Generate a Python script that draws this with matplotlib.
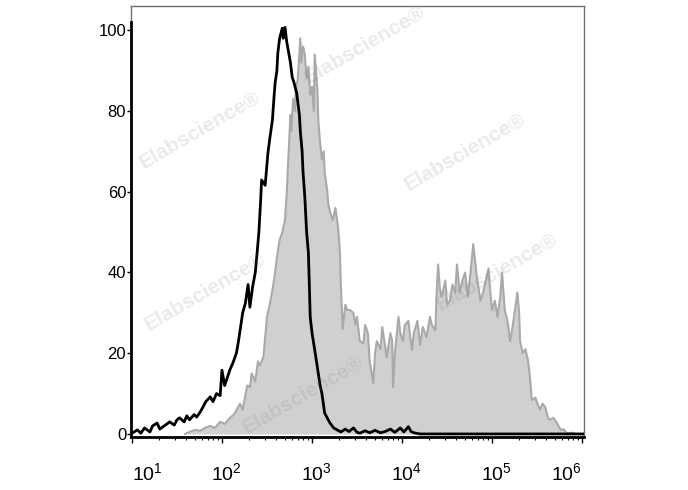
import numpy as np
import matplotlib
matplotlib.use("Agg")
import matplotlib.pyplot as plt
import matplotlib.transforms as mtransforms
from matplotlib.lines import Line2D
from matplotlib.ticker import LogLocator, NullFormatter

plt.rcParams['font.family'] = ['Liberation Sans', 'DejaVu Sans']
plt.rcParams['mathtext.fontset'] = 'custom'
plt.rcParams['mathtext.rm'] = 'Liberation Sans'
plt.rcParams['mathtext.it'] = 'Liberation Sans:italic'

# 对照组（黑线），x 为 log10 荧光强度
ctrl_log = [1.01, 1.06, 1.10, 1.14, 1.20, 1.23, 1.28, 1.31, 1.34, 1.39, 1.42, 1.47, 1.50, 1.53,
            1.58, 1.61, 1.64, 1.69, 1.72, 1.76, 1.79, 1.82, 1.87, 1.90, 1.94, 1.98, 2.00, 2.03,
            2.06, 2.09, 2.12, 2.16, 2.18, 2.21, 2.23, 2.26, 2.29, 2.31, 2.34, 2.37, 2.39, 2.41,
            2.43, 2.44, 2.48, 2.51, 2.53, 2.56, 2.58, 2.59, 2.61, 2.62, 2.64, 2.67, 2.68, 2.70,
            2.72, 2.73, 2.76, 2.78, 2.80, 2.83, 2.86, 2.87, 2.89, 2.90, 2.92, 2.94, 2.96, 2.97,
            2.98, 3.00, 3.03, 3.07, 3.09, 3.11, 3.14, 3.18, 3.20, 3.24, 3.28, 3.32, 3.37, 3.41,
            3.46, 3.50, 3.53, 3.59, 3.64, 3.70, 3.76, 3.81, 3.87, 3.92, 3.98, 4.02, 4.07, 4.10,
            4.13, 4.20, 6.02]
ctrl_cnt = [0.3, 1.0, 0.2, 1.5, 0.5, 2.0, 2.7, 1.2, 1.7, 2.5, 3.0, 2.2, 3.5, 4.0,
            3.0, 4.5, 3.5, 4.8, 4.2, 5.5, 6.7, 8.0, 9.2, 8.0, 10.0, 9.5, 15.8, 12.0,
            14.0, 16.0, 17.5, 20.0, 22.5, 27.0, 30.0, 32.4, 37.0, 31.4, 36.4, 40.0, 44.8, 50.0,
            58.0, 62.9, 61.6, 69.5, 73.0, 77.7, 84.0, 86.9, 90.0, 94.3, 98.0, 100.5, 98.0, 100.7,
            97.0, 95.8, 92.0, 88.4, 87.0, 84.4, 79.0, 75.0, 70.0, 65.0, 58.7, 50.0, 44.8, 37.0,
            29.0, 25.0, 20.8, 15.0, 12.0, 10.0, 5.2, 3.5, 2.7, 1.5, 1.0, 0.5, 1.2, 0.6,
            1.5, 0.4, 0.2, 0.8, 0.3, 0.9, 0.3, 0.6, 1.2, 0.4, 1.5, 0.5, 1.8, 0.6,
            0.3, 0.0, 0.0]

# 染色组（灰色填充）
stain_log = [1.59, 1.64, 1.70, 1.76, 1.81, 1.87, 1.92, 1.98, 2.03, 2.09, 2.14, 2.20, 2.23, 2.28,
             2.31, 2.33, 2.37, 2.40, 2.42, 2.46, 2.48, 2.50, 2.53, 2.56, 2.59, 2.61, 2.64, 2.67,
             2.70, 2.72, 2.73, 2.76, 2.77, 2.79, 2.81, 2.82, 2.84, 2.87, 2.88, 2.90, 2.92, 2.94,
             2.96, 2.98, 3.00, 3.02, 3.03, 3.06, 3.07, 3.09, 3.11, 3.13, 3.14, 3.17, 3.18, 3.20,
             3.23, 3.26, 3.29, 3.31, 3.32, 3.34, 3.37, 3.39, 3.42, 3.46, 3.48, 3.50, 3.53, 3.57,
             3.59, 3.61, 3.62, 3.64, 3.68, 3.70, 3.72, 3.76, 3.78, 3.81, 3.83, 3.87, 3.89, 3.90,
             3.92, 3.96, 3.98, 4.01, 4.03, 4.07, 4.09, 4.11, 4.13, 4.17, 4.20, 4.23, 4.27, 4.31,
             4.33, 4.37, 4.38, 4.40, 4.42, 4.44, 4.48, 4.50, 4.53, 4.56, 4.59, 4.61, 4.64, 4.67,
             4.70, 4.73, 4.76, 4.79, 4.81, 4.83, 4.87, 4.90, 4.92, 4.96, 4.98, 5.00, 5.03, 5.06,
             5.09, 5.11, 5.14, 5.17, 5.20, 5.23, 5.28, 5.30, 5.31, 5.34, 5.37, 5.40, 5.42, 5.44,
             5.48, 5.50, 5.53, 5.56, 5.59, 5.62, 5.64, 5.68, 5.72, 5.76, 5.79, 5.83, 5.89, 5.93,
             6.02]
stain_cnt = [0.0, 0.5, 1.0, 0.8, 1.5, 2.0, 1.5, 3.0, 2.5, 4.0, 5.0, 7.5, 6.0, 12.0,
             11.6, 15.0, 13.0, 18.0, 17.0, 19.0, 24.0, 29.0, 32.0, 35.6, 40.0, 43.8, 48.0, 50.0,
             53.0, 60.0, 65.0, 79.0, 75.0, 83.0, 80.0, 86.0, 87.6, 98.0, 92.0, 96.0, 94.0, 88.0,
             91.0, 84.0, 86.0, 80.0, 94.0, 85.0, 77.7, 72.0, 68.0, 70.0, 65.0, 60.0, 57.0, 55.0,
             53.0, 56.0, 51.0, 45.0, 37.0, 26.0, 32.0, 30.7, 30.7, 30.0, 27.0, 29.0, 23.0, 22.5,
             27.0, 25.7, 25.0, 18.0, 12.6, 20.0, 23.0, 21.0, 26.5, 22.0, 19.0, 25.0, 23.0, 11.6,
             20.0, 29.0, 25.0, 23.0, 27.0, 28.0, 24.0, 20.8, 25.0, 28.0, 22.0, 26.5, 24.0, 29.0,
             27.0, 25.7, 33.0, 42.0, 36.0, 34.0, 38.0, 32.0, 33.0, 37.0, 35.0, 42.0, 35.0, 38.0,
             40.0, 34.0, 40.0, 47.0, 43.0, 39.0, 33.0, 35.0, 37.0, 41.0, 35.0, 30.7, 33.0, 29.0,
             34.0, 40.0, 30.7, 28.0, 23.0, 27.0, 35.0, 30.0, 23.0, 20.0, 21.0, 18.0, 14.0, 8.4,
             9.0, 7.7, 6.0, 7.5, 6.7, 4.0, 3.5, 4.0, 2.7, 1.0, 1.2, 0.2, 0.3, 0.0,
             0.0]

decades = [1, 2, 3, 4, 5, 6]
y_ticks = [0, 20, 40, 60, 80, 100]

# 水印位置（图坐标）
marks = [(0.291, 0.735), (0.531, 0.908), (0.676, 0.690),
         (0.298, 0.404), (0.722, 0.445), (0.440, 0.194)]

fig = plt.figure(figsize=(6.88, 4.90), dpi=100)
ax = fig.add_axes([131 / 688, 53 / 490, 453 / 688, 431 / 490])

xs = 10 ** np.array(stain_log)
ax.fill_between(xs, 0, stain_cnt, color="#d0d0d0", lw=0, zorder=1)
ax.plot(xs, stain_cnt, color="#a9a9a9", lw=1.5, zorder=2)
ax.plot(10 ** np.array(ctrl_log), ctrl_cnt, color="black", lw=2, zorder=3)

ax.set_xscale("log")
ax.set_xlim(10 ** 0.99, 10 ** 6.02)
ax.set_ylim(-0.75, 106)

ax.set_xticks([10 ** d for d in decades])
ax.set_xticklabels([r"$10^{%d}$" % d for d in decades], fontsize=14)
ax.xaxis.set_minor_locator(LogLocator(base=10, subs=np.arange(2, 10), numticks=20))
ax.xaxis.set_minor_formatter(NullFormatter())
ax.tick_params(axis="x", which="major", length=4, width=1, pad=14, direction="out")
ax.tick_params(axis="x", which="minor", length=2, width=0.8, direction="out")

ax.set_yticks(y_ticks)
ax.set_yticklabels([str(v) for v in y_ticks], fontsize=12)
ax.tick_params(axis="y", length=3, width=1, pad=0.5, direction="out")

# 刻度标签的水平微调
labels = ax.get_xticklabels()
for i, lab in enumerate(labels):
    if i == 0:
        lab.set_ha("left")
    elif i == len(labels) - 1:
        lab.set_ha("right")
    else:
        lab.set_transform(lab.get_transform() +
                          mtransforms.ScaledTranslation(4 / 100, 0, fig.dpi_scale_trans))

# 边框：左、下为粗黑线，上、右为细灰线
for s in ["top", "right"]:
    ax.spines[s].set_color("#707070")
    ax.spines[s].set_linewidth(1)
ax.spines["bottom"].set_color("black")
ax.spines["bottom"].set_linewidth(2)
ax.spines["left"].set_color("black")
ax.spines["left"].set_linewidth(2)
ax.spines["left"].set_bounds(-0.75, 102)
ax.add_line(Line2D([0, 0], [0.96, 1], transform=ax.transAxes, color="#707070",
                   lw=1, clip_on=False))

for (fx, fy) in marks:
    fig.text(fx, fy, "Elabscience\u00ae", fontsize=15, fontweight="bold", color="gray",
             alpha=0.17, rotation=30, ha="center", va="center", zorder=5)

plt.savefig("out.png", dpi=100)
